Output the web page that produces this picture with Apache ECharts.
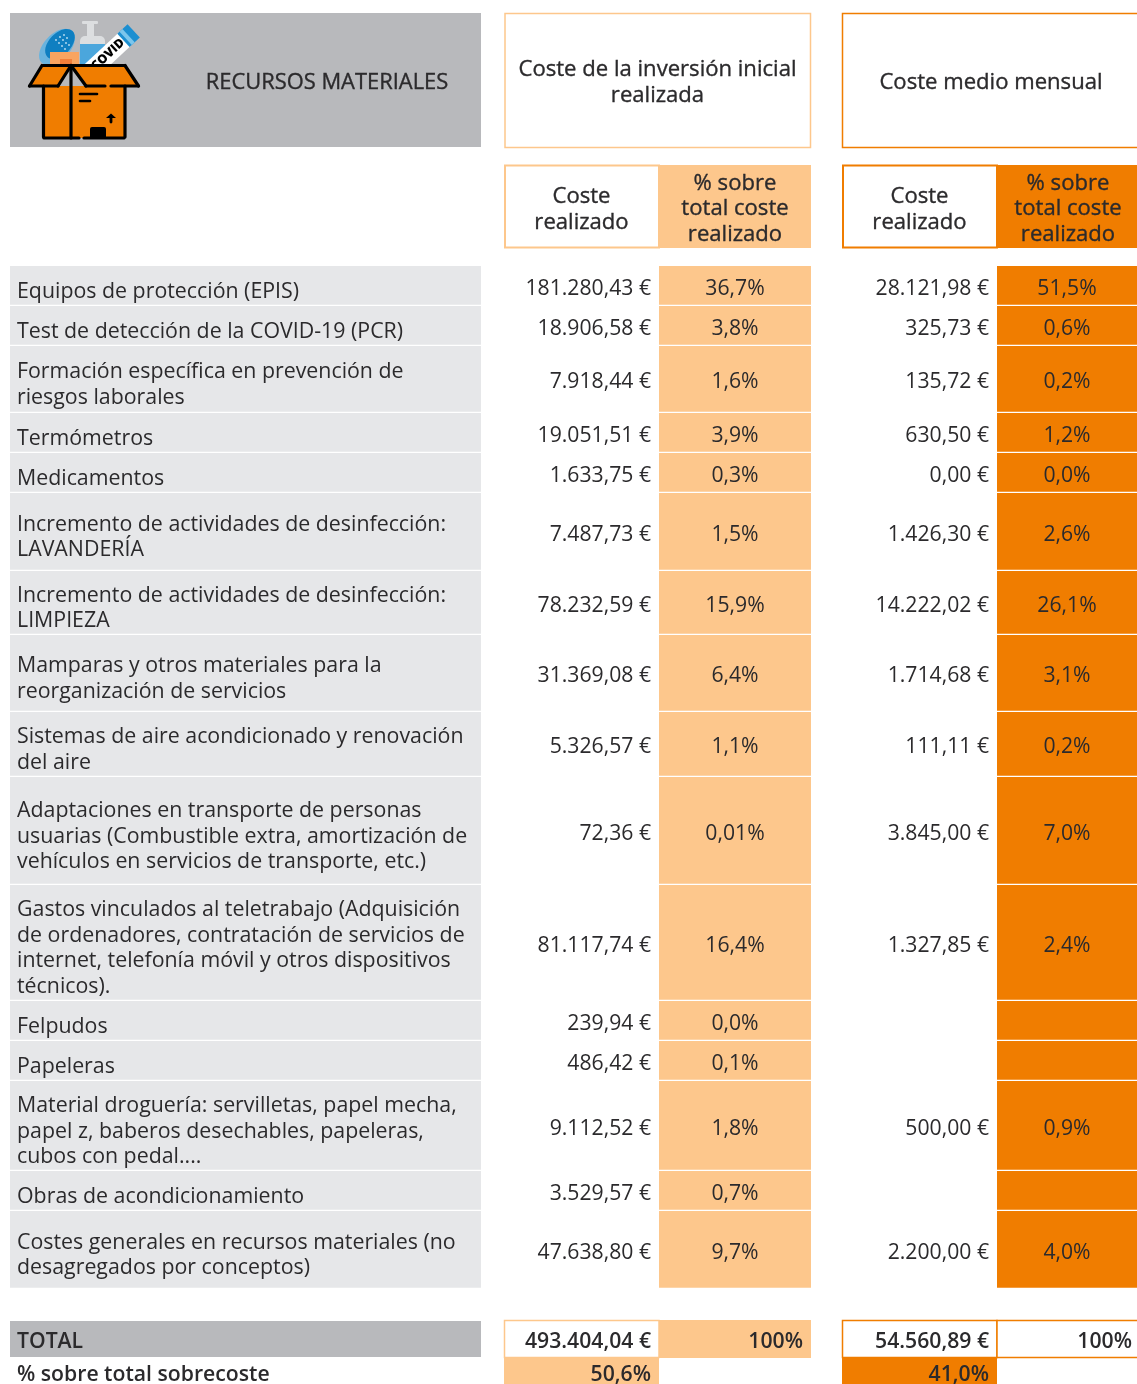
<!DOCTYPE html>
<html>
<head>
  <meta charset="utf-8">
  <title>Recursos materiales</title>
  <script src="https://cdn.jsdelivr.net/npm/echarts@6/dist/echarts.min.js"></script>
  <style>
    html, body { margin: 0; background: #fff; }
  </style>
</head>
<body>
<div id="chartmain" style="width:1137px; height:1384px;"></div>
<script type="text/javascript">
  // data
  let conceptos = [
    'Equipos de protección (EPIS)',
    'Test de detección de la COVID-19 (PCR)',
    'Formación específica en prevención de\nriesgos laborales',
    'Termómetros',
    'Medicamentos',
    'Incremento de actividades de desinfección:\nLAVANDERÍA',
    'Incremento de actividades de desinfección:\nLIMPIEZA',
    'Mamparas y otros materiales para la\nreorganización de servicios',
    'Sistemas de aire acondicionado y renovación\ndel aire',
    'Adaptaciones en transporte de personas\nusuarias (Combustible extra, amortización de\nvehículos en servicios de transporte, etc.)',
    'Gastos vinculados al teletrabajo (Adquisición\nde ordenadores, contratación de servicios de\ninternet, telefonía móvil y otros dispositivos\ntécnicos).',
    'Felpudos',
    'Papeleras',
    'Material droguería: servilletas, papel mecha,\npapel z, baberos desechables, papeleras,\ncubos con pedal....',
    'Obras de acondicionamiento',
    'Costes generales en recursos materiales (no\ndesagregados por conceptos)'
  ];
  let costeInicial = [181280.43, 18906.58, 7918.44, 19051.51, 1633.75, 7487.73, 78232.59, 31369.08, 5326.57, 72.36, 81117.74, 239.94, 486.42, 9112.52, 3529.57, 47638.80];
  let pctInicial = ['36,7%', '3,8%', '1,6%', '3,9%', '0,3%', '1,5%', '15,9%', '6,4%', '1,1%', '0,01%', '16,4%', '0,0%', '0,1%', '1,8%', '0,7%', '9,7%'];
  let costeMensual = [28121.98, 325.73, 135.72, 630.50, 0, 1426.30, 14222.02, 1714.68, 111.11, 3845.00, 1327.85, null, null, 500.00, null, 2200.00];
  let pctMensual = ['51,5%', '0,6%', '0,2%', '1,2%', '0,0%', '2,6%', '26,1%', '3,1%', '0,2%', '7,0%', '2,4%', '', '', '0,9%', '', '4,0%'];
  let totalInicial = 493404.04;
  let totalMensual = 54560.89;
  let pctTotal = '100%';
  let sobreInicial = '50,6%';
  let sobreMensual = '41,0%';

  // layout of the table, in the pixels of the (hidden) axes
  let rowEdges = [266, 306, 346, 413, 453, 493, 571, 635, 712, 777, 885, 1001, 1041, 1081, 1171, 1211, 1289];
  let X = { label: [10, 481], c1: [504, 659], p1: [659, 811], c2: [842, 997], p2: [997, 1137] };

  let GRIS = '#b8b9bc', GRIS_CLARO = '#e6e7e9', NARANJA = '#f07d00', NARANJA_CLARO = '#fdc78c', TINTA = '#2b2a2c';
  let FONT = '"Open Sans"';

  function euros(v) {
    if (v === null) return '';
    let p = v.toFixed(2).split('.');
    return p[0].replace(/\B(?=(\d{3})+$)/g, '.') + ',' + p[1] + ' €';
  }

  function txt(x, y, text, align, size, weight, heavy) {
    return {
      type: 'text',
      style: {
        x: x, y: y + 2.5, text: text, align: align, verticalAlign: 'middle',
        fill: TINTA, font: (weight || 400) + ' ' + (size || 21.2) + 'px ' + FONT, lineHeight: 25.7,
        stroke: heavy ? TINTA : null, lineWidth: heavy ? 0.35 : 0
      }
    };
  }

  // one column of the body: a filled cell per row and its text
  function columna(range, valores, opts) {
    return {
      type: 'custom',
      coordinateSystem: 'cartesian2d',
      silent: true,
      data: valores.map(function (v, i) { return [i, v]; }),
      renderItem: function (params, api) {
        let i = api.value(0);
        let a = api.coord([range[0], rowEdges[i]]);
        let b = api.coord([range[1], rowEdges[i + 1]]);
        let kids = [];
        if (opts.fill) {
          kids.push({ type: 'rect', shape: { x: a[0], y: a[1], width: b[0] - a[0], height: b[1] - a[1] - 1.2 }, style: { fill: opts.fill } });
        }
        let text = valores[i];
        if (opts.fmt) text = opts.fmt(text);
        let mid = (a[1] + b[1]) / 2;
        if (opts.align === 'left') kids.push(txt(a[0] + 7, mid + 3, text, 'left', 21.35));
        else if (opts.align === 'right') kids.push(txt(b[0] - 8, mid, text, 'right'));
        else kids.push(txt((a[0] + b[0]) / 2, mid, text, 'center'));
        return { type: 'group', children: kids };
      }
    };
  }

  // header boxes and the two lines under the table, same axes
  function bloques() {
    let items = [
      { r: [10, 481, 13, 147], fill: GRIS, t: 'RECURSOS MATERIALES', tx: 327, head: true, size: 21.9 },
      { r: [505, 810.5, 13.5, 147.5], stroke: NARANJA_CLARO, t: 'Coste de la inversión inicial\nrealizada', tx: 657.5, ty: 80, head: true },
      { r: [842.5, 1150, 13.5, 147.5], stroke: NARANJA, t: 'Coste medio mensual', tx: 991, head: true },
      { r: [505, 659, 165.5, 247.5], stroke: NARANJA_CLARO, w: 2, t: 'Coste\nrealizado', tx: 581.5, ty: 207.5, head: true },
      { r: [659, 811, 165, 248], fill: NARANJA_CLARO, t: '% sobre\ntotal coste\nrealizado', tx: 735, ty: 206.5, head: true },
      { r: [843, 997, 165.5, 247.5], stroke: NARANJA, w: 2, t: 'Coste\nrealizado', tx: 919.5, ty: 207.5, head: true },
      { r: [997, 1137, 165, 248], fill: NARANJA, t: '% sobre\ntotal coste\nrealizado', tx: 1068, ty: 206.5, head: true },

      { r: [10, 481, 1321, 1357], fill: GRIS, t: 'TOTAL', tx: 17, align: 'left', weight: 600 },
      { r: [504.5, 659, 1320.5, 1357.5], stroke: NARANJA_CLARO, t: euros(totalInicial), tx: 651, align: 'right', weight: 600 },
      { r: [659, 811, 1320, 1358], fill: NARANJA_CLARO, t: pctTotal, tx: 803, align: 'right', weight: 600 },
      { r: [842.5, 997, 1320.5, 1357.5], stroke: NARANJA, t: euros(totalMensual), tx: 989, align: 'right', weight: 600 },
      { r: [997, 1150, 1320.5, 1357.5], stroke: NARANJA, t: pctTotal, tx: 1132, align: 'right', weight: 600 },

      { r: [10, 481, 1358, 1384], t: '% sobre total sobrecoste', tx: 17, ty: 1372, align: 'left', weight: 600 },
      { r: [504, 659, 1358, 1384], fill: NARANJA_CLARO, t: sobreInicial, tx: 651, ty: 1372, align: 'right', weight: 600 },
      { r: [842, 997, 1358, 1384], fill: NARANJA, t: sobreMensual, tx: 989, ty: 1372, align: 'right', weight: 600 }
    ];
    return {
      type: 'custom',
      coordinateSystem: 'cartesian2d',
      silent: true,
      data: items.map(function (d, i) { return [i]; }),
      renderItem: function (params, api) {
        let d = items[api.value(0)];
        let a = api.coord([d.r[0], d.r[2]]);
        let b = api.coord([d.r[1], d.r[3]]);
        let c = api.coord([d.tx, d.ty === undefined ? (d.r[2] + d.r[3]) / 2 : d.ty]);
        return {
          type: 'group',
          children: [
            {
              type: 'rect',
              shape: { x: a[0], y: a[1], width: b[0] - a[0], height: b[1] - a[1] },
              style: { fill: d.fill || '#fff', stroke: d.stroke || null, lineWidth: d.w || 1.5 }
            },
            txt(c[0], c[1], d.t, d.align || 'center', d.size || (d.head ? 22.1 : undefined), d.weight, d.head)
          ]
        };
      }
    };
  }

  // the little box drawing next to the main title
  function icono() {
    let negro = '#000';
    function poly(points, style) { return { type: 'polygon', shape: { points: points }, style: style, z: 10 }; }
    function line(x1, y1, x2, y2, w) {
      return { type: 'line', shape: { x1: x1, y1: y1, x2: x2, y2: y2 }, style: { stroke: negro, lineWidth: w || 3.2, lineCap: 'round' }, z: 12 };
    }
    let puntos = [[56, 40], [60, 37], [64, 35], [59, 43], [63, 40], [67, 38], [62, 46], [66, 43], [65, 49], [69, 45]];
    return [
      // mask
      { type: 'ellipse', shape: { cx: 57, cy: 47, rx: 22, ry: 13 }, rotation: 0.8, originX: 57, originY: 47, style: { fill: '#69b3de' }, z: 8 },
      { type: 'ellipse', shape: { cx: 60, cy: 44, rx: 18, ry: 11 }, rotation: 0.8, originX: 60, originY: 44, style: { fill: '#0f7fc1' }, z: 8 }
    ].concat(puntos.map(function (p) {
      return { type: 'circle', shape: { cx: p[0], cy: p[1], r: 0.9 }, style: { fill: '#bfe0f2' }, z: 8 };
    }), [
      // bottle
      { type: 'rect', shape: { x: 82, y: 21, width: 16, height: 3, r: 1 }, style: { fill: '#dcdee0' }, z: 8 },
      { type: 'rect', shape: { x: 87, y: 23, width: 7, height: 13 }, style: { fill: '#dcdee0' }, z: 8 },
      { type: 'rect', shape: { x: 80, y: 36, width: 25, height: 30, r: [5, 5, 0, 0] }, style: { fill: '#dcdee0' }, z: 8 },
      { type: 'rect', shape: { x: 80, y: 44, width: 25, height: 22 }, style: { fill: '#4ba6dc' }, z: 8 },
      // wipes
      { type: 'rect', shape: { x: 50, y: 52, width: 29, height: 14 }, style: { fill: '#f9a460' }, z: 9 },
      { type: 'rect', shape: { x: 60, y: 59, width: 12, height: 7 }, style: { fill: '#f27f3a' }, z: 9 },
      // test tube, drawn rotated with its text
      {
        type: 'group', x: 111, y: 52, rotation: 0.75, z: 9,
        children: [
          { type: 'rect', shape: { x: -34, y: -9, width: 52, height: 18 }, style: { fill: '#fff' }, z: 9 },
          { type: 'rect', shape: { x: 17, y: -9, width: 14, height: 18 }, style: { fill: '#1c8fd1' }, z: 9 },
          { type: 'rect', shape: { x: 20, y: -9, width: 4, height: 18 }, style: { fill: '#7cc6ec' }, z: 9 },
          {
            type: 'text', x: -4, y: 0, z: 9,
            style: { text: 'COVID', fill: '#000', align: 'center', verticalAlign: 'middle', font: '800 12.5px ' + FONT }
          }
        ]
      },
      // box
      poly([[43, 86], [125, 86], [125, 138], [43, 138]], { fill: NARANJA }),
      poly([[42, 65.5], [71, 65.5], [58, 86], [29, 86]], { fill: NARANJA }),
      poly([[71, 65.5], [125, 65.5], [138, 86], [86, 86]], { fill: NARANJA }),
      line(43, 65.5, 125, 65.5),
      line(42, 65.5, 29.5, 86),
      line(125, 65.5, 138.5, 86),
      line(71, 65.5, 58, 86),
      line(71, 65.5, 86, 86),
      line(29.5, 86, 58, 86),
      line(86, 86, 105, 86),
      line(111, 86, 138.5, 86),
      line(43.5, 86, 43.5, 137),
      line(125, 86, 125, 137),
      line(71, 66, 71, 138),
      line(44, 138, 79, 138),
      line(84, 138, 124, 138),
      line(80, 94, 97, 94, 2.6),
      line(80, 101, 90, 101, 2.6),
      line(111, 117, 111, 122, 2.8),
      poly([[106, 118], [111, 113.5], [116, 118]], { fill: negro }),
      { type: 'rect', shape: { x: 90, y: 127, width: 16, height: 12, r: [2, 2, 0, 0] }, style: { fill: negro }, z: 12 }
    ]);
  }

  let option = {
    animation: false,
    backgroundColor: '#fff',
    grid: { left: 0, right: 0, top: 0, bottom: 0 },
    xAxis: { type: 'value', min: 0, max: 1137, show: false },
    yAxis: { type: 'value', min: 0, max: 1384, inverse: true, show: false },
    graphic: { elements: icono() },
    series: [
      bloques(),
      columna(X.label, conceptos, { fill: GRIS_CLARO, align: 'left' }),
      columna(X.c1, costeInicial, { align: 'right', fmt: euros }),
      columna(X.p1, pctInicial, { fill: NARANJA_CLARO }),
      columna(X.c2, costeMensual, { align: 'right', fmt: euros }),
      columna(X.p2, pctMensual, { fill: NARANJA })
    ]
  };

  let myChart = echarts.init(document.getElementById('chartmain'), null, { renderer: 'canvas' });
  myChart.setOption(option);
</script>
</body>
</html>
